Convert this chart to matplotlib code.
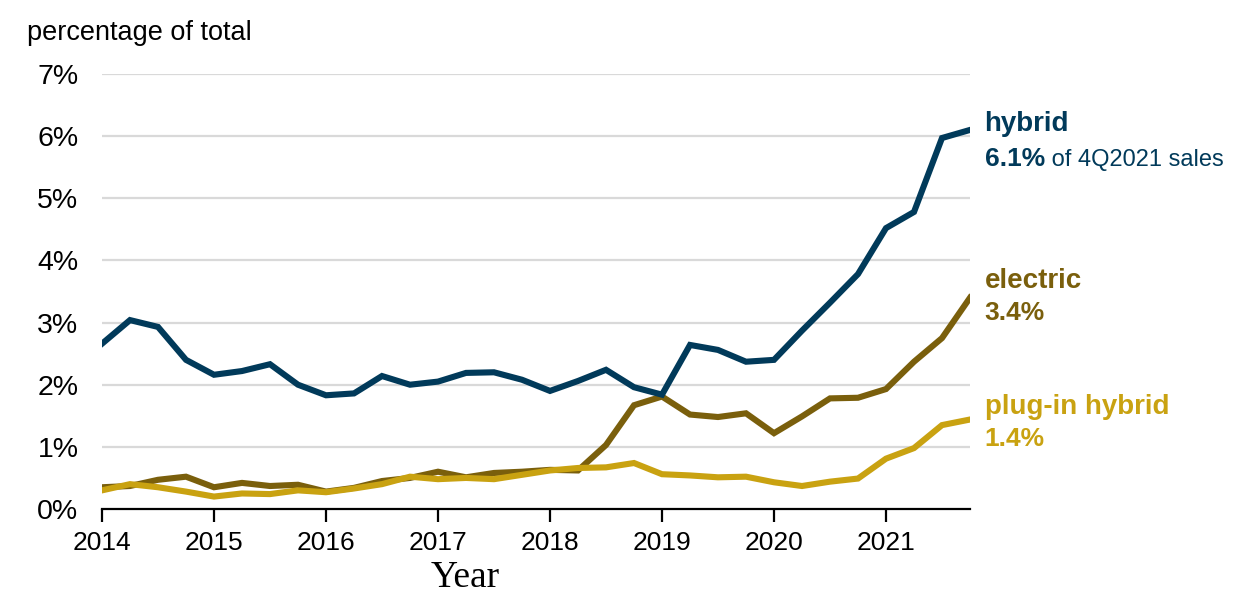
import matplotlib
matplotlib.use("Agg")
import matplotlib.pyplot as plt
import numpy as np

# quarterly share of light-duty vehicle sales, 1Q2014 .. 4Q2021
quarters = 2014 + np.arange(32) * 0.25
hybrid = [2.66, 3.04, 2.93, 2.40, 2.16, 2.22, 2.33, 2.00,
          1.83, 1.86, 2.14, 2.00, 2.05, 2.19, 2.20, 2.08,
          1.90, 2.06, 2.24, 1.96, 1.84, 2.64, 2.56, 2.37,
          2.40, 2.87, 3.32, 3.78, 4.52, 4.78, 5.97, 6.10]
electric = [0.35, 0.37, 0.47, 0.52, 0.35, 0.42, 0.37, 0.39,
            0.28, 0.34, 0.45, 0.50, 0.60, 0.51, 0.58, 0.60,
            0.63, 0.62, 1.03, 1.67, 1.81, 1.52, 1.48, 1.54,
            1.22, 1.49, 1.78, 1.79, 1.93, 2.37, 2.75, 3.40]
plugin = [0.30, 0.40, 0.35, 0.28, 0.20, 0.25, 0.24, 0.30,
          0.27, 0.33, 0.40, 0.52, 0.48, 0.50, 0.48, 0.55,
          0.62, 0.66, 0.67, 0.74, 0.56, 0.54, 0.51, 0.52,
          0.43, 0.37, 0.44, 0.49, 0.81, 0.98, 1.35, 1.44]
years = list(range(2014, 2022))
yticks = list(range(0, 8))

navy = "#013a5a"
olive = "#7a5f0c"
gold = "#c9a211"

plt.rcParams["font.family"] = ["Liberation Sans", "DejaVu Sans"]

fig = plt.figure(figsize=(12.48, 6.14), dpi=100)
ax = fig.add_axes([102 / 1248, 105 / 614, 868 / 1248, 435 / 614])

for y in yticks[1:]:
    ax.axhline(y, color="#d9d9d9", lw=1.6, zorder=0)

ax.plot(quarters, hybrid, color=navy, lw=4.4, solid_joinstyle="miter", zorder=3)
ax.plot(quarters, electric, color=olive, lw=4.4, solid_joinstyle="miter", zorder=2)
ax.plot(quarters, plugin, color=gold, lw=4.4, solid_joinstyle="miter", zorder=2)

ax.set_xlim(2014, 2021.75)
ax.set_ylim(0, 7)
for s in ("left", "right", "top"):
    ax.spines[s].set_visible(False)
ax.spines["bottom"].set_linewidth(1.6)
ax.spines["bottom"].set_zorder(4)

ax.set_yticks(yticks)
ax.set_yticklabels([f"{v}%" for v in yticks], fontsize=20.5)
ax.tick_params(axis="y", length=0, pad=17)
ax.set_xticks(years)
ax.set_xticklabels([str(y) for y in years], fontsize=19)
ax.tick_params(axis="x", length=9, width=1.6, pad=7)

fig.text(465 / 1248, 1 - 578 / 614, "Year", family="Liberation Serif",
         fontsize=27, ha="center", va="center")
fig.text(27 / 1248, 1 - 33 / 614, "percentage of total", fontsize=19.5,
         va="center", ha="left")

# end-of-series labels
lx = 2021.88
ax.text(lx, hybrid[-1] + 0.09, "hybrid", color=navy, fontsize=20,
        fontweight="bold", va="center", clip_on=False)
t = ax.text(lx, hybrid[-1] - 0.47, f"{hybrid[-1]:.1f}%", color=navy,
            fontsize=19, fontweight="bold", va="center", clip_on=False)
ax.annotate(" of 4Q2021 sales", xycoords=t, xy=(1, 0.45), va="center",
            ha="left", color=navy, fontsize=17, annotation_clip=False)
ax.text(lx, electric[-1] + 0.27, "electric", color=olive, fontsize=20,
        fontweight="bold", va="center", clip_on=False)
ax.text(lx, electric[-1] - 0.25, f"{electric[-1]:.1f}%", color=olive,
        fontsize=19, fontweight="bold", va="center", clip_on=False)
ax.text(lx, plugin[-1] + 0.20, "plug-in hybrid", color=gold, fontsize=20,
        fontweight="bold", va="center", clip_on=False)
ax.text(lx, plugin[-1] - 0.32, f"{plugin[-1]:.1f}%", color=gold,
        fontsize=19, fontweight="bold", va="center", clip_on=False)

fig.savefig("out.png", dpi=100)
